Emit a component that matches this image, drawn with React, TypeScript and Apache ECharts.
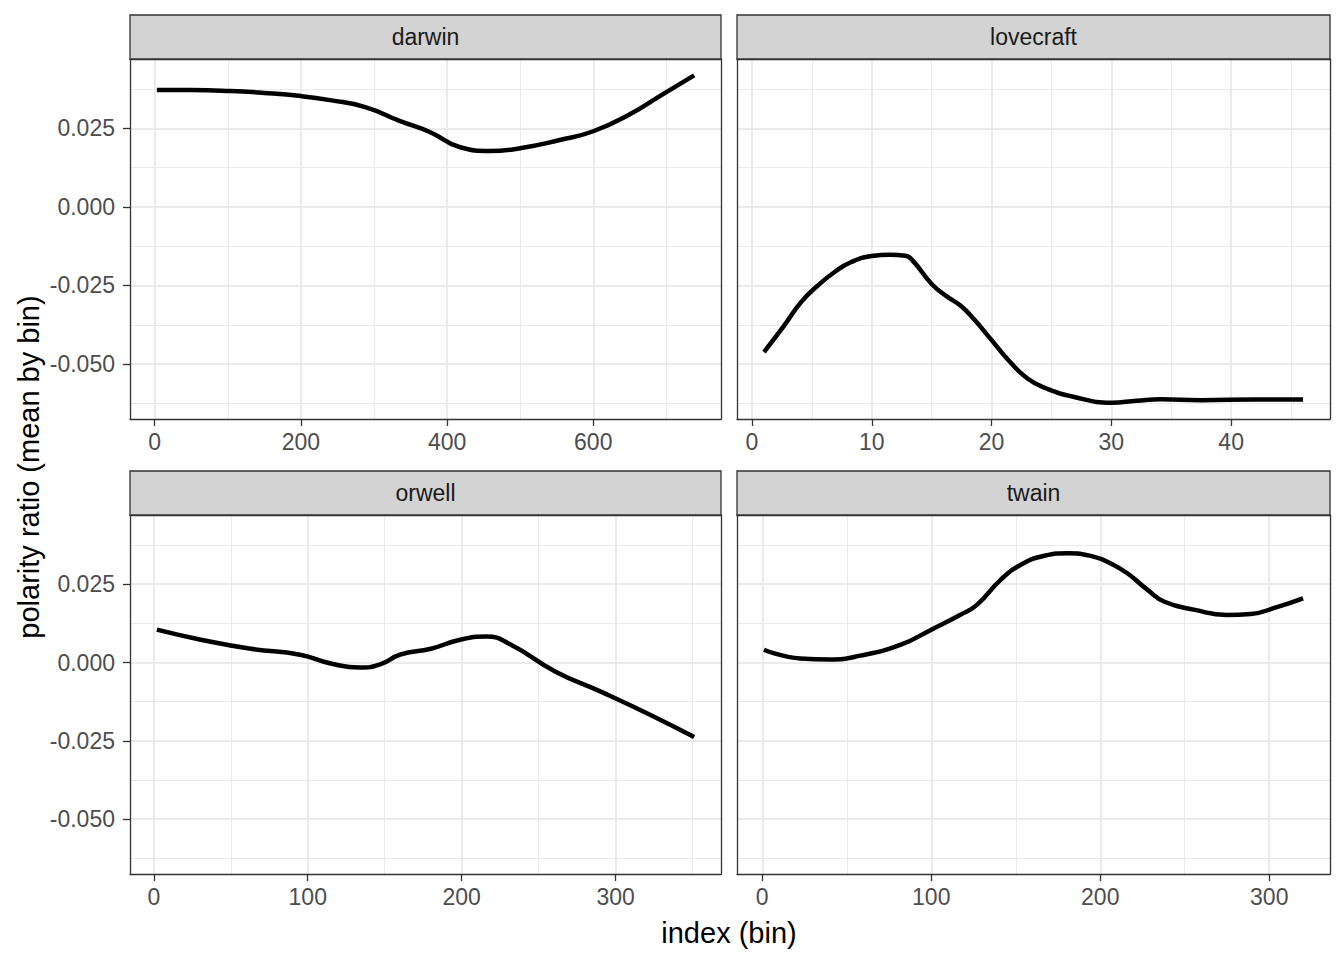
import React, { useEffect, useRef } from "react";
import * as echarts from "echarts";

// ---------- data ----------
const panelNames = ["darwin", "lovecraft", "orwell", "twain"];

const darwinX = [3, 50, 104, 150, 200, 240, 288, 336, 377, 418, 459, 500, 554, 600, 650, 691, 738];
const darwinY = [0.0372, 0.0372, 0.0369, 0.0363, 0.0353, 0.034, 0.0318, 0.0273, 0.0238, 0.019, 0.0178, 0.0187, 0.0213, 0.0241, 0.0295, 0.0353, 0.0419];

const lovecraftX = [1, 2.7, 4.1, 5.5, 6.9, 8.25, 10, 11.5, 12.8, 13.4, 15, 16.2, 17.4, 18.5, 19.9, 21.3, 23, 24.6, 26.9, 30, 32.1, 34.1, 37.5, 42, 46];
const lovecraftY = [-0.0462, -0.0377, -0.0303, -0.025, -0.0207, -0.0176, -0.0156, -0.0152, -0.0155, -0.017, -0.0245, -0.0283, -0.0314, -0.0356, -0.0419, -0.0483, -0.0546, -0.0578, -0.0605, -0.0623, -0.0617, -0.0612, -0.0615, -0.0613, -0.0613];

const orwellX = [2, 30.5, 63, 95, 115, 134, 147, 160, 180, 199, 216, 232, 261, 290, 323, 351];
const orwellY = [0.0105, 0.0073, 0.0044, 0.0025, -0.0003, -0.0016, -0.0006, 0.0025, 0.0044, 0.0073, 0.0083, 0.0057, -0.0029, -0.0092, -0.0168, -0.0238];

const twainX = [1, 22.5, 40, 58, 82, 100, 117, 127, 141, 153, 167, 181, 196, 206, 216, 228, 238, 256, 275, 289, 305, 320];
const twainY = [0.0041, 0.0013, 0.001, 0.0022, 0.0057, 0.0105, 0.0152, 0.0184, 0.0264, 0.0312, 0.0341, 0.0349, 0.0338, 0.0317, 0.0285, 0.0232, 0.0194, 0.0168, 0.0152, 0.0155, 0.0178, 0.0205];

const xMajorTicks = [
  [0, 200, 400, 600],
  [0, 10, 20, 30, 40],
  [0, 100, 200, 300],
  [0, 100, 200, 300],
];
const xMinorTicks = [
  [100, 300, 500, 700],
  [5, 15, 25, 35, 45],
  [50, 150, 250, 350],
  [50, 150, 250],
];
const xRanges = [
  [-33.75, 774.75],
  [-1.25, 48.25],
  [-15.45, 368.45],
  [-14.95, 335.95],
];
const yMajorTicks = [-0.05, -0.025, 0, 0.025];
const yMinorTicks = [-0.0625, -0.0375, -0.0125, 0.0125, 0.0375];
const yRange = [-0.0675, 0.0471];

const xTitle = "index (bin)";
const yTitle = "polarity ratio (mean by bin)";

const seriesX = [darwinX, lovecraftX, orwellX, twainX];
const seriesY = [darwinY, lovecraftY, orwellY, twainY];

// ---------- layout ----------
const FONT = "'Liberation Sans', Arial, Helvetica, sans-serif";
const panels = [
  { left: 130, top: 59, width: 591, height: 360 },
  { left: 737, top: 59, width: 593, height: 360 },
  { left: 130, top: 515, width: 591, height: 359 },
  { left: 737, top: 515, width: 593, height: 359 },
];
const STRIP_H = 44;
const BORDER = "#333333";

export default function App() {
  const ref = useRef<HTMLDivElement>(null);

  useEffect(() => {
    if (!ref.current) return;
    const chart = echarts.init(ref.current, null, { renderer: "svg" });

    const grid: any[] = [];
    const xAxis: any[] = [];
    const yAxis: any[] = [];
    const series: any[] = [];
    const graphic: any[] = [];

    panels.forEach((p, i) => {
      grid.push({ left: p.left, top: p.top, width: p.width, height: p.height, containLabel: false });
      const showYLabels = i % 2 === 0;
      // primary x axis (bottom)
      xAxis.push({
        type: "value",
        gridIndex: i,
        position: "bottom",
        min: xRanges[i][0],
        max: xRanges[i][1],
        axisLine: { show: true, onZero: false, lineStyle: { color: BORDER, width: 1.3 } },
        axisTick: { show: true, length: 7, customValues: xMajorTicks[i], lineStyle: { color: BORDER, width: 1.3 } },
        axisLabel: {
          show: true,
          customValues: xMajorTicks[i],
          color: "#4D4D4D",
          fontSize: 23,
          fontFamily: FONT,
          margin: 11,
          formatter: (v: number) => String(v),
        },
        splitLine: { show: true, lineStyle: { color: "#EBEBEB", width: 2 } },
      });
      // minor x axis (top) - minor grid + top border
      xAxis.push({
        type: "value",
        gridIndex: i,
        position: "top",
        min: xRanges[i][0],
        max: xRanges[i][1],
        axisLine: { show: true, onZero: false, lineStyle: { color: BORDER, width: 1.3 } },
        axisTick: { show: false, customValues: xMinorTicks[i] },
        axisLabel: { show: false, customValues: xMinorTicks[i] },
        splitLine: { show: true, lineStyle: { color: "#EBEBEB", width: 1 } },
      });
      // primary y axis (left)
      yAxis.push({
        type: "value",
        gridIndex: i,
        position: "left",
        min: yRange[0],
        max: yRange[1],
        axisLine: { show: true, onZero: false, lineStyle: { color: BORDER, width: 1.3 } },
        axisTick: { show: showYLabels, length: 7, customValues: yMajorTicks, lineStyle: { color: BORDER, width: 1.3 } },
        axisLabel: {
          show: showYLabels,
          customValues: yMajorTicks,
          color: "#4D4D4D",
          fontSize: 23,
          fontFamily: FONT,
          margin: 15,
          formatter: (v: number) => v.toFixed(3),
        },
        splitLine: { show: true, lineStyle: { color: "#EBEBEB", width: 2 } },
      });
      // minor y axis (right)
      yAxis.push({
        type: "value",
        gridIndex: i,
        position: "right",
        min: yRange[0],
        max: yRange[1],
        axisLine: { show: true, onZero: false, lineStyle: { color: BORDER, width: 1.3 } },
        axisTick: { show: false, customValues: yMinorTicks },
        axisLabel: { show: false, customValues: yMinorTicks },
        splitLine: { show: true, lineStyle: { color: "#EBEBEB", width: 1 } },
      });

      series.push({
        type: "line",
        xAxisIndex: i * 2,
        yAxisIndex: i * 2,
        data: seriesX[i].map((x, k) => [x, seriesY[i][k]]),
        smooth: 0.5,
        showSymbol: false,
        symbol: "none",
        lineStyle: { color: "#000000", width: 4.5 },
        z: 5,
      });

      // strip
      graphic.push({
        type: "rect",
        shape: { x: p.left, y: p.top - STRIP_H, width: p.width, height: STRIP_H },
        style: { fill: "#D3D3D3", stroke: BORDER, lineWidth: 1.3 },
        z: 10,
      });
      graphic.push({
        type: "text",
        x: p.left + p.width / 2,
        y: p.top - STRIP_H / 2,
        style: {
          text: panelNames[i],
          fill: "#1A1A1A",
          font: `23px ${FONT}`,
          textAlign: "center",
          textVerticalAlign: "middle",
        },
        z: 11,
      });
    });

    graphic.push({
      type: "text",
      x: 729,
      y: 933,
      style: { text: xTitle, fill: "#000000", font: `29px ${FONT}`, textAlign: "center", textVerticalAlign: "middle" },
    });
    graphic.push({
      type: "text",
      x: 29,
      y: 467,
      rotation: Math.PI / 2,
      style: { text: yTitle, fill: "#000000", font: `29px ${FONT}`, textAlign: "center", textVerticalAlign: "middle" },
    });

    chart.setOption({
      animation: false,
      backgroundColor: "#FFFFFF",
      grid,
      xAxis,
      yAxis,
      series,
      graphic,
    });

    return () => chart.dispose();
  }, []);

  return (
    <div
      ref={ref}
      style={{ position: "fixed", left: 0, top: 0, width: 1344, height: 960, background: "#fff" }}
    />
  );
}
